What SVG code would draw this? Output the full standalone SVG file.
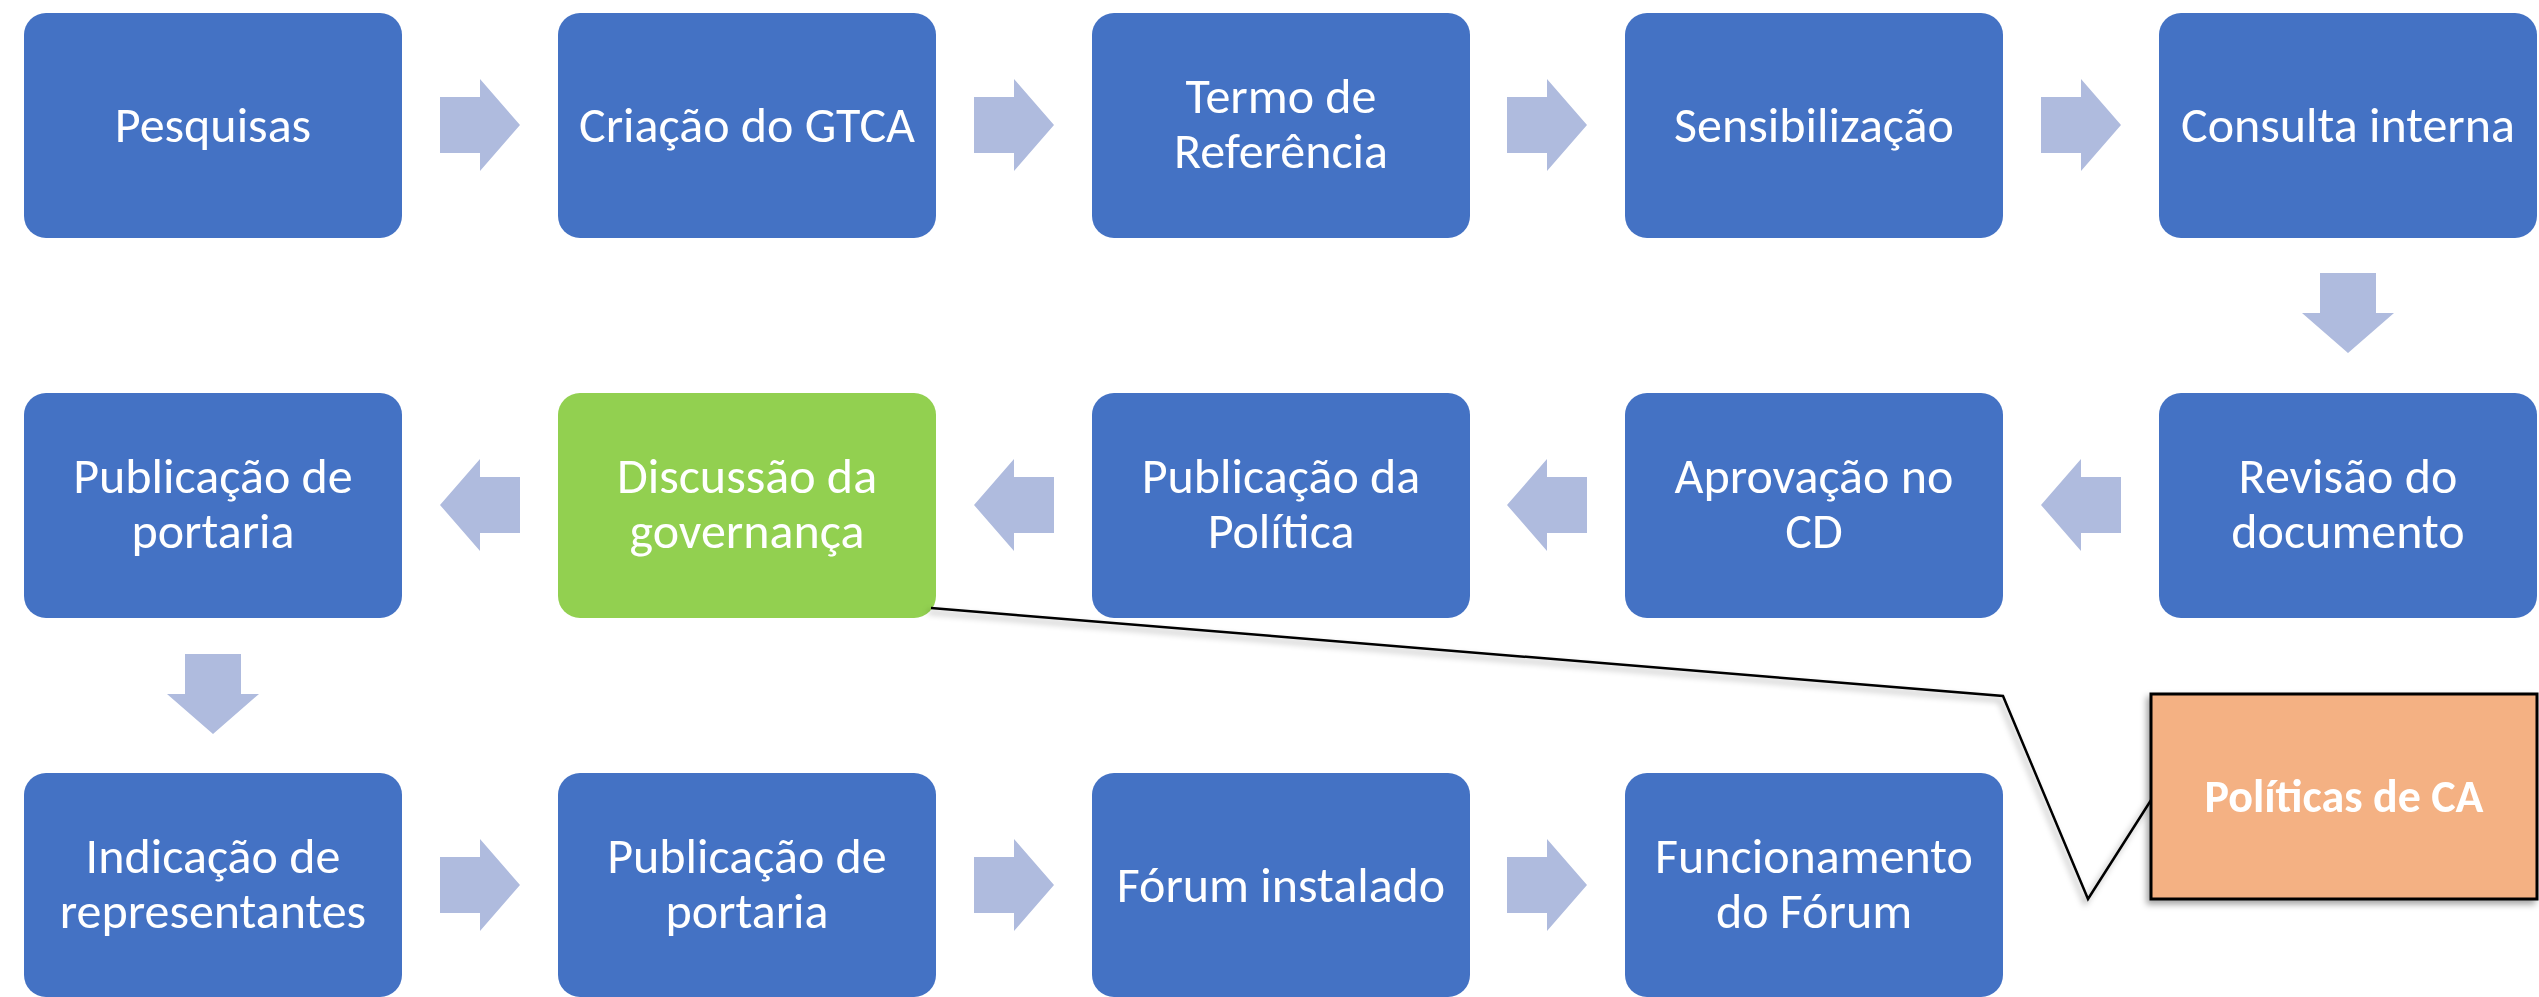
<svg xmlns="http://www.w3.org/2000/svg" xmlns:xlink="http://www.w3.org/1999/xlink" width="2539" height="997" viewBox="0 0 2539 997">
<style>
.n{fill:#4472C4}
.g{fill:#92D050}
.t{fill:#fff;font-family:Carlito,Lato,"Liberation Sans",sans-serif;font-size:50px;text-anchor:middle}
.arr{fill:#AFBBDE}
.cl{fill:#F4B183;stroke:#000;stroke-width:3}
.ct{fill:#fff;font-family:Carlito,Lato,"Liberation Sans",sans-serif;font-size:46px;font-weight:bold;text-anchor:middle}
.ln{fill:none;stroke:#000;stroke-width:2.5;stroke-linejoin:miter}
</style>
<defs>
<path id="ar" class="arr" d="M-40,-28H0V-46L40,0L0,46V28H-40Z"/>
<filter id="sh" x="-10%" y="-10%" width="120%" height="130%">
<feDropShadow dx="-3" dy="4" stdDeviation="3" flood-color="#000" flood-opacity="0.35"/>
</filter>
</defs>
<rect width="2539" height="997" fill="#fff"/>
<g id="connectors">
<use xlink:href="#ar" transform="translate(480,125)"/>
<use xlink:href="#ar" transform="translate(1014,125)"/>
<use xlink:href="#ar" transform="translate(1547,125)"/>
<use xlink:href="#ar" transform="translate(2081,125)"/>
<use xlink:href="#ar" transform="translate(2348,313) rotate(90)"/>
<use xlink:href="#ar" transform="translate(2081,505) rotate(180)"/>
<use xlink:href="#ar" transform="translate(1547,505) rotate(180)"/>
<use xlink:href="#ar" transform="translate(1014,505) rotate(180)"/>
<use xlink:href="#ar" transform="translate(480,505) rotate(180)"/>
<use xlink:href="#ar" transform="translate(213,694) rotate(90)"/>
<use xlink:href="#ar" transform="translate(480,885)"/>
<use xlink:href="#ar" transform="translate(1014,885)"/>
<use xlink:href="#ar" transform="translate(1547,885)"/>
</g>
<g id="n1"><rect class="n" x="24" y="13" width="378" height="225" rx="22"/><text class="t" x="213" y="142">Pesquisas</text></g>
<g id="n2"><rect class="n" x="558" y="13" width="378" height="225" rx="22"/><text class="t" x="747" y="142">Criação do GTCA</text></g>
<g id="n3"><rect class="n" x="1092" y="13" width="378" height="225" rx="22"/><text class="t" x="1281" y="113">Termo de</text><text class="t" x="1281" y="168">Referência</text></g>
<g id="n4"><rect class="n" x="1625" y="13" width="378" height="225" rx="22"/><text class="t" x="1814" y="142">Sensibilização</text></g>
<g id="n5"><rect class="n" x="2159" y="13" width="378" height="225" rx="22"/><text class="t" x="2348" y="142">Consulta interna</text></g>
<g id="n6"><rect class="n" x="2159" y="393" width="378" height="225" rx="22"/><text class="t" x="2348" y="493">Revisão do</text><text class="t" x="2348" y="548">documento</text></g>
<g id="n7"><rect class="n" x="1625" y="393" width="378" height="225" rx="22"/><text class="t" x="1814" y="493">Aprovação no</text><text class="t" x="1814" y="548">CD</text></g>
<g id="n8"><rect class="n" x="1092" y="393" width="378" height="225" rx="22"/><text class="t" x="1281" y="493">Publicação da</text><text class="t" x="1281" y="548">Política</text></g>
<g id="n9"><rect class="g" x="558" y="393" width="378" height="225" rx="22"/><text class="t" x="747" y="493">Discussão da</text><text class="t" x="747" y="548">governança</text></g>
<g id="n10"><rect class="n" x="24" y="393" width="378" height="225" rx="22"/><text class="t" x="213" y="493">Publicação de</text><text class="t" x="213" y="548">portaria</text></g>
<g id="n11"><rect class="n" x="24" y="773" width="378" height="224" rx="22"/><text class="t" x="213" y="873">Indicação de</text><text class="t" x="213" y="928">representantes</text></g>
<g id="n12"><rect class="n" x="558" y="773" width="378" height="224" rx="22"/><text class="t" x="747" y="873">Publicação de</text><text class="t" x="747" y="928">portaria</text></g>
<g id="n13"><rect class="n" x="1092" y="773" width="378" height="224" rx="22"/><text class="t" x="1281" y="902">Fórum instalado</text></g>
<g id="n14"><rect class="n" x="1625" y="773" width="378" height="224" rx="22"/><text class="t" x="1814" y="873">Funcionamento</text><text class="t" x="1814" y="928">do Fórum</text></g>
<g id="callout" filter="url(#sh)">
<polyline class="ln" points="931,608 2003,696 2088,899 2153,797"/>
<rect class="cl" x="2151" y="694" width="386" height="205"/>
<text class="ct" x="2344" y="812">Políticas de CA</text>
</g>
</svg>
